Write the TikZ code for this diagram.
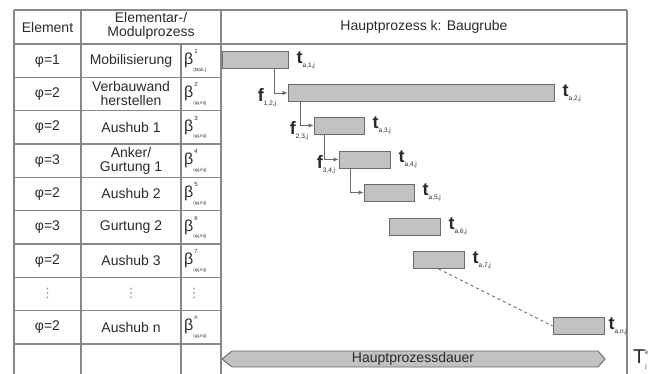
\documentclass[tikz,border=0pt]{standalone}
\usepackage{fontspec}
\setmainfont{Liberation Sans}
\newfontfamily\djv{DejaVu Sans}
\usetikzlibrary{arrows.meta}
\definecolor{linegray}{HTML}{888888}
\definecolor{barfill}{HTML}{C2C2C2}
\definecolor{bardraw}{HTML}{6A6A6A}
\definecolor{txt}{HTML}{2A2A2A}
\newcommand\mybeta[2]{{\fontsize{16}{16}\selectfont β}\rlap{\raisebox{1.5ex}{\fontsize{6}{6}\selectfont\,#1}}\raisebox{-0.9ex}{\fontsize{4.5}{4.5}\selectfont #2}}
\newcommand\phimj{(φj,mj)}
\newcommand\tlab[1]{{\fontsize{18}{18}\selectfont\bfseries t}\raisebox{-0.5ex}{\fontsize{6.5}{6.5}\selectfont #1}}
\newcommand\flab[1]{{\fontsize{18}{18}\selectfont\bfseries f}\raisebox{-0.5ex}{\fontsize{6.5}{6.5}\selectfont #1}}
\tikzset{
  grid/.style={draw=linegray, line width=1.2pt},
  bar/.style={draw=bardraw, fill=barfill, line width=0.9pt, minimum height=17pt, inner sep=0pt},
  conn/.style={draw=bardraw, line width=0.9pt, -{Latex[length=5pt,width=4.5pt]}},
  cell/.style={align=center, inner sep=1pt},
  tl/.style={anchor=west, inner sep=0pt},
  dotcell/.style={text=linegray, inner sep=0pt, font=\djv\fontsize{13}{13}\selectfont},
}
\begin{document}
\begin{tikzpicture}[x=1pt,y=-1pt, font=\fontsize{14}{14}\selectfont, text=txt]
\useasboundingbox (0,0) rectangle (656,374);
% table grid
\draw[grid] (14,10) -- (627,10);
\draw[grid] (14,44) -- (627,44);
\draw[grid] (14,10) -- (14,374);
\draw[grid] (81,10) -- (81,374);
\draw[grid] (181,44) -- (181,374);
\draw[grid] (221,10) -- (221,374);
\draw[grid] (627,10) -- (627,374);
\foreach \i in {1,...,9}{
  \draw[grid] (14,{44+33.33*\i}) -- (221,{44+33.33*\i});
}
% header
\node[cell] (hEl) at (47.5,27) {Element};
\node[cell] (hMod) at (151,26) {Elementar-/\\Modulprozess};
\node[cell] (hHP) at (424,27) {Hauptprozess k: Baugrube};
% rows
\foreach \r/\p/\m/\bs/\bb in {1/φ=1/Mobilisierung/1/(Mob.),
  2/φ=2/{Verbauwand\\herstellen}/2/\phimj,
  3/φ=2/Aushub 1/3/\phimj,
  4/φ=3/{Anker/\\Gurtung 1}/4/\phimj,
  5/φ=2/Aushub 2/5/\phimj,
  6/φ=3/Gurtung 2/6/\phimj,
  7/φ=2/Aushub 3/7/\phimj,
  9/φ=2/Aushub n/n/\phimj}{
  \node[cell] (e\r) at (47.5,{44+33.33*(\r-0.5)}) {\p};
  \node[cell] (m\r) at (131,{44+33.33*(\r-0.5)}) {\m};
  \node[cell, anchor=west] (b\r) at (183,{44+33.33*(\r-0.5)}) {\mybeta{\bs}{\bb}};
}
\node[dotcell] (d1) at (47.5,293) {⋮};
\node[dotcell] (d2) at (131,293) {⋮};
\node[dotcell] (d3) at (194,293) {⋮};
% bars
\node[bar, minimum width=66pt] (g1) at (255,60) {};
\node[bar, minimum width=266pt] (g2) at (421,93) {};
\node[bar, minimum width=50pt] (g3) at (339,125.5) {};
\node[bar, minimum width=51pt] (g4) at (364.5,159.5) {};
\node[bar, minimum width=50pt] (g5) at (389,192.5) {};
\node[bar, minimum width=51pt] (g6) at (414.5,226.5) {};
\node[bar, minimum width=51pt] (g7) at (438.5,260) {};
\node[bar, minimum width=51pt] (gn) at (578.5,326) {};
% t labels
\node[tl] (t1) at ([xshift=8pt]g1.east) {\tlab{a,1,j}};
\node[tl] (t2) at ([xshift=8pt]g2.east) {\tlab{a,2,j}};
\node[tl] (t3) at ([xshift=8pt]g3.east) {\tlab{a,3,j}};
\node[tl] (t4) at ([xshift=8pt]g4.east) {\tlab{a,4,j}};
\node[tl] (t5) at ([xshift=8pt]g5.east) {\tlab{a,5,j}};
\node[tl] (t6) at ([xshift=8pt]g6.east) {\tlab{a,6,j}};
\node[tl] (t7) at ([xshift=8pt]g7.east) {\tlab{a,7,j}};
\node[tl] (tn) at ([xshift=4pt]gn.east) {\tlab{a,n,j}};
% connectors
\draw[conn] ([xshift=-14pt]g1.south east) |- (g2.west);
\draw[conn] ([xshift=13pt]g2.south west) |- (g3.west);
\draw[conn] ([xshift=11pt]g3.south west) |- (g4.west);
\draw[conn] ([xshift=12pt]g4.south west) |- (g5.west);
\draw[draw=bardraw, line width=0.9pt, dashed] (g7.south) -- (gn.west);
% f labels
\node[inner sep=0pt] (f1) at (267,98) {\flab{1,2,j}};
\node[inner sep=0pt] (f2) at (299,131) {\flab{2,3,j}};
\node[inner sep=0pt] (f3) at (326,165) {\flab{3,4,j}};
% Hauptprozessdauer
\draw[draw=bardraw, fill=barfill, line width=0.9pt] (222,359) -- (232,351) -- (598,351) -- (605,359) -- (598,367) -- (232,367) -- cycle;
\node (hpd) at (413,359) {Hauptprozessdauer};
\node[inner sep=0pt] (T) at (640,360) {{\fontsize{20}{20}\selectfont T}\rlap{\raisebox{1.3ex}{\fontsize{6}{6}\selectfont k}}\raisebox{-0.7ex}{\fontsize{6}{6}\selectfont j}};
\end{tikzpicture}
\end{document}
